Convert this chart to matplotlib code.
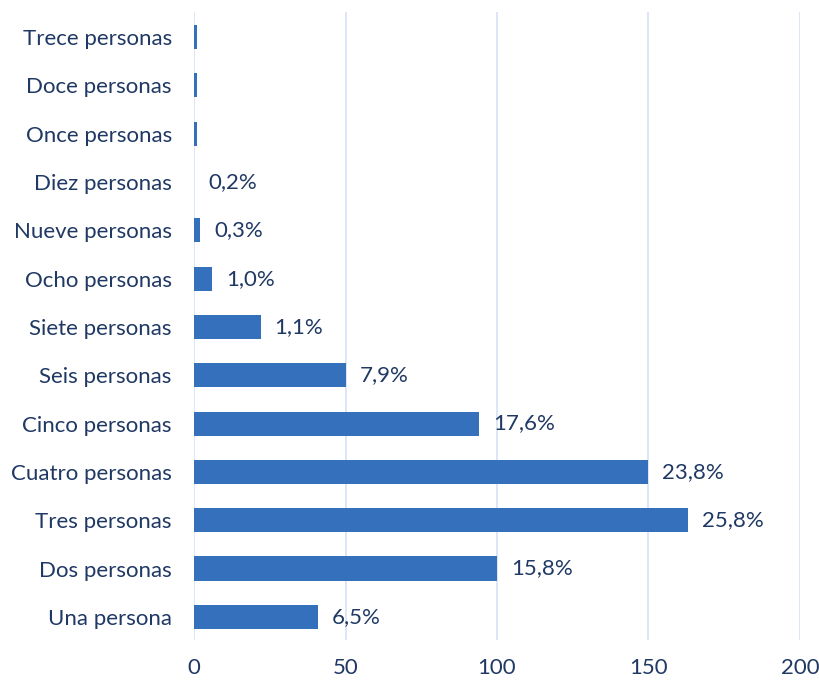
import numpy as np
import matplotlib
matplotlib.use('Agg')
import matplotlib.pyplot as plt

categories = ['Una persona', 'Dos personas', 'Tres personas', 'Cuatro personas',
              'Cinco personas', 'Seis personas', 'Siete personas', 'Ocho personas',
              'Nueve personas', 'Diez personas', 'Once personas', 'Doce personas',
              'Trece personas']
values = [41, 100, 163, 150, 94, 50, 22, 6, 2, 0, 1, 1, 1]
labels = ['6,5%', '15,8%', '25,8%', '23,8%', '17,6%', '7,9%', '1,1%', '1,0%',
          '0,3%', '0,2%', '', '', '']
xticks = [0, 50, 100, 150, 200]

plt.rcParams['font.family'] = ['Lato', 'DejaVu Sans']
text_col = '#1F3864'
grid_col = '#D6E1F2'

fig = plt.figure(figsize=(8.2, 6.81), dpi=100)
ax = fig.add_axes([0.2366, 0.0602, 0.7390, 0.9222])

y = np.arange(len(categories))
ax.barh(y, values, height=0.5, color='#3470BC', zorder=3)

for yi, v, lab in zip(y, values, labels):
    if lab:
        ax.annotate(lab, (v, yi), xytext=(10, 0), textcoords='offset points',
                    va='center', ha='left', fontsize=16, color=text_col)

ax.set_xlim(0, 200)
ax.set_ylim(-0.48, 12.52)
ax.set_xticks(xticks)
ax.set_yticks(y)
ax.set_yticklabels(categories)
ax.tick_params(axis='both', length=0, labelsize=16, colors=text_col)
ax.tick_params(axis='x', pad=13)
ax.tick_params(axis='y', pad=16)
ax.xaxis.grid(True, color=grid_col, linewidth=1.2, zorder=0)
for s in ['top', 'right', 'bottom', 'left']:
    ax.spines[s].set_visible(False)

fig.savefig('out.png', dpi=100)
